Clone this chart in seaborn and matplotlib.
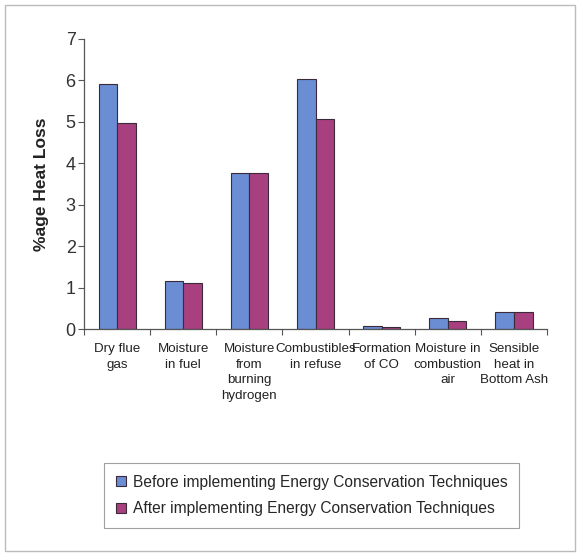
import pandas as pd
import numpy as np
import matplotlib as mpl
from matplotlib import pyplot as plt
import seaborn as sns

categories = ['Dry flue\ngas', 'Moisture\nin fuel', 'Moisture\nfrom\nburning\nhydrogen',
              'Combustibles\nin refuse', 'Formation\nof CO', 'Moisture in\ncombustion\nair',
              'Sensible\nheat in\nBottom Ash']
before = [5.92, 1.16, 3.77, 6.04, 0.08, 0.26, 0.42]
after = [4.98, 1.11, 3.77, 5.07, 0.05, 0.20, 0.42]
series = ['Before implementing Energy Conservation Techniques',
          'After implementing Energy Conservation Techniques']

df = pd.DataFrame({
    'Loss': categories * 2,
    'Value': before + after,
    'Series': [series[0]] * len(categories) + [series[1]] * len(categories),
})

sns.set_theme(style='white')
plt.rcParams['font.family'] = ['Liberation Sans', 'DejaVu Sans']

fig = plt.figure(figsize=(5.81, 5.56), dpi=100)
ax = fig.add_axes([0.1446, 0.408, 0.797, 0.522])

palette = {series[0]: '#6A8DD4', series[1]: '#A8407F'}
sns.barplot(data=df, x='Loss', y='Value', hue='Series', palette=palette,
            width=0.56, edgecolor='#3a2a3a', linewidth=0.8, saturation=1,
            ax=ax, legend=False)

ax.set_ylim(0, 7)
ax.set_xlim(-0.5, 6.5)
ax.set_yticks(range(8))
ax.tick_params(axis='y', labelsize=13, length=4, width=0.8, color='#555555',
               direction='out', left=True, pad=2, labelcolor='#333333')
ax.tick_params(axis='x', which='major', length=0, labelsize=9.6, pad=10,
               labelcolor='#222222')
for t in ax.get_xticklabels():
    t.set_linespacing(1.4)
ax.set_xticks(np.arange(-0.5, 7, 1), minor=True)
ax.tick_params(axis='x', which='minor', length=4, width=0.8, color='#555555',
               direction='out', bottom=True)
ax.set_xlabel('')
ax.set_ylabel('%age Heat Loss', fontsize=12.5, fontweight='bold', labelpad=12,
              color='#222222')

sns.despine(ax=ax)
for s in ['left', 'bottom']:
    ax.spines[s].set_color('#555555')
    ax.spines[s].set_linewidth(0.9)

handles = [mpl.patches.Patch(facecolor=palette[s], edgecolor='#3a2a3a', linewidth=0.8)
           for s in series]
leg = fig.legend(handles, series, loc='upper left',
                 bbox_to_anchor=(104 / 581, 1 - 463 / 556), fontsize=11.2,
                 frameon=True, fancybox=False, handlelength=0.65, handleheight=0.65,
                 handletextpad=0.45, borderpad=0.75, labelspacing=0.75,
                 borderaxespad=0)
leg.get_frame().set_edgecolor('#888888')
leg.get_frame().set_linewidth(0.8)

fig.patches.append(mpl.patches.Rectangle((5 / 581, 5 / 556), 570 / 581, 546 / 556,
                                         transform=fig.transFigure, fill=False,
                                         edgecolor='#bbbbbb', linewidth=1))

fig.savefig('out.png', dpi=100)
